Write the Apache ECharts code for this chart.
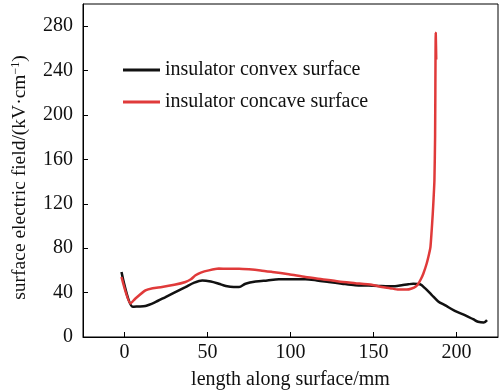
<!DOCTYPE html>
<html>
<head>
<meta charset="utf-8">
<script src="https://cdn.jsdelivr.net/npm/echarts@6/dist/echarts.min.js"></script>
<style>html,body{margin:0;padding:0;background:#fff}#c{width:502px;height:391px}</style>
</head>
<body>
<div id="c"></div>
<script>
const seriesNames = ['insulator convex surface', 'insulator concave surface'];
const xTicks = [0, 50, 100, 150, 200];
const convexX = [-1.8, 5, 8, 12.6, 18, 24.7, 30, 36.7, 42, 46.8, 52, 56.8, 61, 65.8, 69, 72.9, 79, 86, 93, 101, 109, 116, 123, 131, 139, 147, 153, 159, 163, 167, 171, 174, 178, 181, 185, 189, 193, 199, 205, 210, 213, 216.4, 218.4];
const convexY = [58.6, 27.2, 27.5, 28, 31, 36, 40, 45, 49, 51, 50, 48, 46, 45, 45, 48, 50, 51, 52, 52, 52, 51, 49.6, 48, 46.6, 46.3, 46, 45.7, 45.8, 46.6, 47.5, 48, 47.5, 44, 38, 32, 28.7, 23.5, 19.7, 16, 13.7, 13, 15.2];
const concaveX = [-1.8, 3.6, 6.6, 12.6, 17, 22.6, 30, 36.7, 40, 42.8, 46, 50.8, 56.8, 62, 69, 75, 82, 89, 99, 109, 119, 129, 139, 149, 155, 160, 165, 170, 173, 175.5, 177, 178.5, 180, 182, 183.5, 184.3, 185, 185.7, 186.2, 186.7, 187.1, 187.5, 187.8];
const concaveY = [54, 30.2, 34.7, 42, 44, 45, 47, 49.6, 52, 55.6, 58, 60, 61.6, 61.5, 61.5, 61, 60, 58.6, 56.5, 54, 52, 50, 48.5, 47, 45, 44, 42.7, 42.7, 43.7, 45.5, 48, 52, 57, 66, 75, 81, 95, 111, 125, 141, 180, 274, 250];

const pair = (xs, ys) => xs.map((x, i) => [x, ys[i]]);
const FONT = 'Liberation Serif';
const chart = echarts.init(document.getElementById('c'), null, {renderer: 'canvas'});
chart.setOption({
  animation: false,
  grid: {left: 83, right: 4, top: 4, bottom: 54, show: true, borderColor: '#000', borderWidth: 1,
         outerBoundsMode: 'none', containLabel: false},
  legend: {
    orient: 'vertical', left: 118, top: 55, itemWidth: 37, itemHeight: 3, itemGap: 12,
    icon: 'rect',
    textStyle: {fontFamily: FONT, fontSize: 20, color: '#111'},
    data: seriesNames
  },
  xAxis: {
    type: 'value', min: -25, max: 225,
    name: 'length along surface/mm', nameLocation: 'middle', nameGap: 33,
    nameTextStyle: {fontFamily: FONT, fontSize: 20, color: '#111'},
    axisLine: {onZero: false, lineStyle: {color: '#000', width: 1}},
    axisTick: {inside: true, length: 5, customValues: xTicks, lineStyle: {color: '#000'}},
    axisLabel: {customValues: xTicks, fontFamily: FONT, fontSize: 20, color: '#111', margin: 6},
    splitLine: {show: false}
  },
  yAxis: {
    type: 'value', min: 0, max: 300, interval: 40,
    name: 'surface electric field/(kV·cm{sup|−1})', nameLocation: 'middle', nameGap: 53,
    nameTextStyle: {fontFamily: FONT, fontSize: 19.5, color: '#111', padding: [0, 14, 0, 0],
      rich: {sup: {fontFamily: FONT, fontSize: 12, color: '#111', verticalAlign: 'top'}}},
    axisLine: {show: true, onZero: false, lineStyle: {color: '#000', width: 1}},
    axisTick: {inside: true, length: 5, lineStyle: {color: '#000'}},
    axisLabel: {fontFamily: FONT, fontSize: 20, color: '#111', margin: 10, showMaxLabel: false},
    splitLine: {show: false}
  },
  series: [
    {name: seriesNames[0], type: 'line', data: pair(convexX, convexY), showSymbol: false, smooth: 0.3,
     lineStyle: {color: '#111', width: 2.5}, itemStyle: {color: '#111'}},
    {name: seriesNames[1], type: 'line', data: pair(concaveX, concaveY), showSymbol: false, smooth: 0.2,
     lineStyle: {color: '#e03a3a', width: 2.5}, itemStyle: {color: '#e03a3a'}}
  ]
});
</script>
</body>
</html>
